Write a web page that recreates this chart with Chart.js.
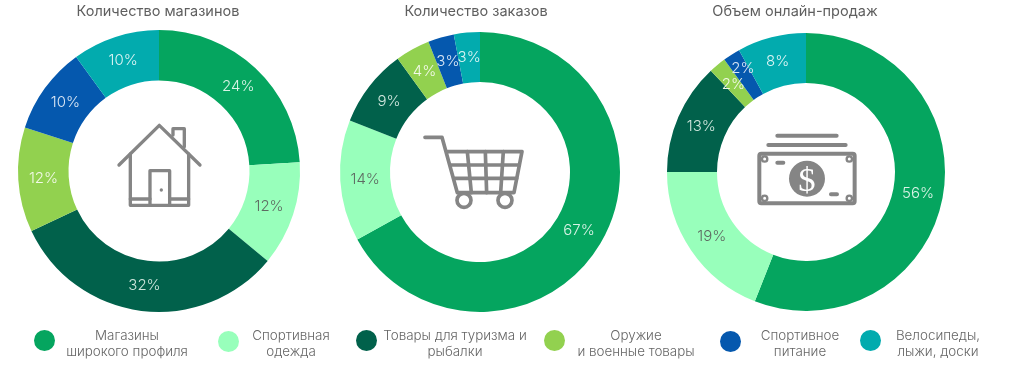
<!DOCTYPE html>
<html lang="ru">
<head>
<meta charset="utf-8">
<title>Доли категорий</title>
<script src="https://cdn.jsdelivr.net/npm/chart.js@4"></script>
<style>
    html, body { margin: 0; padding: 0; background: #fff; }
    body { position: relative; width: 1024px; height: 372px; overflow: hidden; font-family: Inter, "Noto Sans", sans-serif; filter: blur(0.35px); }
    canvas { position: absolute; }
    #icons { position: absolute; left: 0; top: 0; }
    .title { position: absolute; top: 1px; height: 20px; line-height: 20px; transform: translateX(-50%); white-space: nowrap; font-size: 14.5px; font-weight: 400; color: #5f5f5f; }
    .dot { position: absolute; width: 21px; height: 21px; border-radius: 50%; }
    .item { position: absolute; top: 327px; transform: translateX(-50%); text-align: center; white-space: nowrap; font-size: 13.4px; font-weight: 300; line-height: 16px; color: #666; }
</style>
</head>
<body>
<canvas id="chartShops" width="290" height="290" style="left:14px;top:26px"></canvas>
<canvas id="chartOrders" width="290" height="290" style="left:335px;top:27px"></canvas>
<canvas id="chartSales" width="290" height="290" style="left:661px;top:27px"></canvas>

<svg id="icons" width="1024" height="372" xmlns="http://www.w3.org/2000/svg">
    <!-- house -->
    <g transform="scale(0.3333)" fill="none" stroke="#858585" stroke-width="10" stroke-linecap="round" stroke-linejoin="round">
        <path d="M357 495 L478 376 L600 495"/>
        <path d="M391 462 V616 H566 V462"/>
        <path d="M450 616 V512 H509 V616"/>
        <path d="M391 597 H450 M509 597 H566"/>
        <path d="M519 405 V386 H553 V440"/>
        <circle cx="484" cy="570" r="5" fill="#858585" stroke="none"/>
    </g>
    <!-- cart -->
    <g transform="translate(340,0) scale(0.3333)" fill="none" stroke="#858585" stroke-width="11" stroke-linecap="round" stroke-linejoin="round">
        <path d="M255 412 H306 L352 578 H522 L546 455 H320"/>
        <path d="M332 495 H538 M343 535 H530"/>
        <path d="M382 455 L394 578 M436 455 L440 578 M490 455 L482 578"/>
        <circle cx="372" cy="601" r="21"/>
        <circle cx="495" cy="601" r="21"/>
    </g>
    <!-- money -->
    <g transform="translate(660,0) scale(0.3333)" fill="none" stroke="#858585" stroke-width="12" stroke-linecap="round" stroke-linejoin="round">
        <path d="M352 407 H530 M325 435 H557"/>
        <rect x="298" y="461" width="286" height="149" rx="6"/>
        <path d="M352 488 H370 M513 583 H531"/>
        <g stroke-width="7" fill="#fff">
            <circle cx="314" cy="477" r="8"/>
            <circle cx="568" cy="477" r="8"/>
            <circle cx="314" cy="595" r="8"/>
            <circle cx="568" cy="595" r="8"/>
        </g>
        <circle cx="441" cy="536" r="54" fill="#858585" stroke="none"/>
        <text x="441" y="572" text-anchor="middle" fill="#fff" stroke="none" font-family="Liberation Serif" font-size="104">$</text>
    </g>
</svg>

<script>
// Chart data
const categories = [
    ['Магазины', 'широкого профиля'],
    ['Спортивная', 'одежда'],
    ['Товары для туризма и', 'рыбалки'],
    ['Оружие', 'и военные товары'],
    ['Спортивное', 'питание'],
    ['Велосипеды,', 'лыжи, доски'],
];
const sliceColors = ['#05a55f', '#98ffbb', '#01614b', '#92d14f', '#0558ae', '#02abae'];
const labelColors = ['#d9f3e6', '#5e6b62', '#cfe6dd', '#f2f9e8', '#dbe7f5', '#dcf4f4'];

const shopsValues = [24, 12, 32, 12, 10, 10];
const ordersValues = [67, 14, 9, 4, 3, 3];
const salesValues = [56, 19, 13, 2, 2, 8];

const titles = ['Количество магазинов', 'Количество заказов', 'Объем онлайн-продаж'];
const titleCenters = [158, 476, 795];
const dotCenters = [[44, 340], [228, 341], [366, 340], [554, 340], [730, 341], [870, 340]];
const itemCenters = [127, 291, 455, 636, 800, 938];

// Percent text on every slice
const sliceLabels = {
    id: 'sliceLabels',
    afterDatasetsDraw(chart) {
        const ctx = chart.ctx;
        const values = chart.data.datasets[0].data;
        const nudges = chart.options.labelNudges || {};
        ctx.save();
        ctx.font = '300 15px Inter, "Noto Sans", sans-serif';
        ctx.textAlign = 'center';
        ctx.textBaseline = 'middle';
        chart.getDatasetMeta(0).data.forEach((arc, i) => {
            const pos = arc.getCenterPoint();
            const nudge = nudges[i] || [0, 0];
            ctx.fillStyle = labelColors[i];
            ctx.fillText(values[i] + '%', pos.x + nudge[0], pos.y + nudge[1]);
        });
        ctx.restore();
    }
};

function makeDonut(id, values, radius, hole, labelNudges) {
    return new Chart(document.getElementById(id), {
        type: 'doughnut',
        data: {
            labels: categories.map(c => c.join(' ')),
            datasets: [{ data: values, backgroundColor: sliceColors, borderWidth: 0 }]
        },
        options: {
            responsive: false,
            animation: false,
            radius: radius,
            cutout: (hole / radius * 100) + '%', // a plain number here is not pixels
            labelNudges: labelNudges,
            layout: { padding: 0 },
            plugins: { legend: { display: false }, tooltip: { enabled: false } }
        },
        plugins: [sliceLabels]
    });
}

makeDonut('chartShops', shopsValues, 141, 90.5);
makeDonut('chartOrders', ordersValues, 140, 90);
// the two 2% labels sit apart in the reference
makeDonut('chartSales', salesValues, 139, 89, { 4: [-2, -7] });

// Titles and the legend under the charts
titles.forEach((text, i) => {
    const el = document.createElement('div');
    el.className = 'title';
    el.textContent = text;
    el.style.left = titleCenters[i] + 'px';
    document.body.appendChild(el);
});

categories.forEach((lines, i) => {
    const dot = document.createElement('div');
    dot.className = 'dot';
    dot.style.background = sliceColors[i];
    dot.style.left = (dotCenters[i][0] - 10.5) + 'px';
    dot.style.top = (dotCenters[i][1] - 10.5) + 'px';
    document.body.appendChild(dot);

    const item = document.createElement('div');
    item.className = 'item';
    item.innerHTML = lines.join('<br>');
    item.style.left = itemCenters[i] + 'px';
    document.body.appendChild(item);
});
</script>
</body>
</html>
